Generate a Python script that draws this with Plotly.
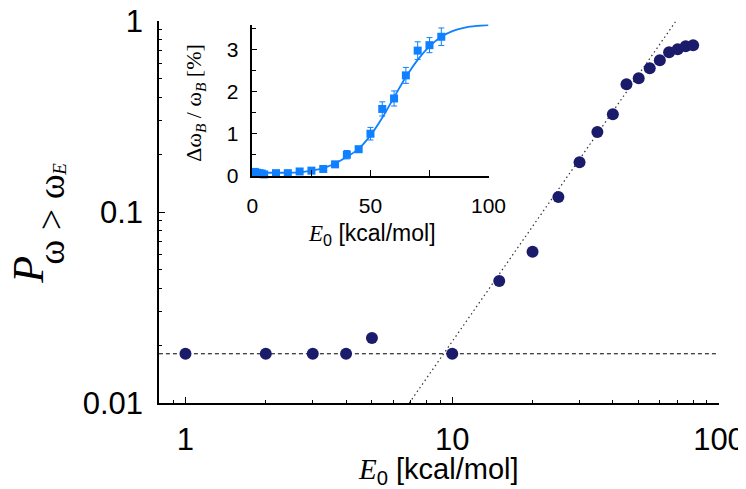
import plotly.graph_objects as go

# ---------------- data ----------------
# main panel
E_main = [1, 2, 3, 4, 5, 10, 15, 20, 25, 30, 35, 40, 45, 50, 55, 60, 65, 70, 75, 80]
P_main = [0.0181, 0.0181, 0.0181, 0.0181, 0.0219, 0.0181, 0.0435, 0.0619, 0.1197,
          0.1824, 0.262, 0.325, 0.467, 0.501, 0.566, 0.623, 0.686, 0.711, 0.737, 0.746]
baseline_level = 0.0181
baseline_x = [0.795, 100]
slope_x = [6.9, 69.0]          # dotted power-law guide (slope 2 in log-log)
slope_y = [0.01, 1.0]

# inset
E_in = [1, 2, 3, 4, 5, 10, 15, 20, 25, 30, 35, 40, 45, 50, 55, 60, 65, 70, 75, 80]
dW_in = [0.09, 0.07, 0.06, 0.05, 0.03, 0.06, 0.06, 0.10, 0.12, 0.16, 0.27, 0.50,
         0.63, 1.00, 1.59, 1.84, 2.39, 2.98, 3.11, 3.31]
dW_err = [0.03, 0.03, 0.03, 0.03, 0.03, 0.03, 0.03, 0.03, 0.03, 0.04, 0.05, 0.10,
          0.07, 0.15, 0.17, 0.18, 0.19, 0.21, 0.18, 0.21]
E_fit = [0, 5, 10, 15, 20, 25, 30, 35, 40, 45, 50, 55, 60, 65, 70, 75, 80, 85, 90, 95, 100]
dW_fit = [0.09, 0.075, 0.07, 0.07, 0.08, 0.12, 0.18, 0.29, 0.45, 0.64, 0.96, 1.38,
          1.87, 2.35, 2.76, 3.08, 3.31, 3.45, 3.53, 3.57, 3.59]

main_x_ticks = [1, 10, 100]
main_x_ticktext = ["1", "10", "100"]
main_y_ticks = [0.01, 0.1, 1]
main_y_ticktext = ["0.01", "0.1", "1"]
in_x_ticks = [0, 50, 100]
in_y_ticks = [0, 1, 2, 3]

# ---------------- styling ----------------
W, H = 746, 489
OFF = 8                      # page body margin offset of the figure in the window
L, R, T, B = 150.5, 35, 12.7, 94
PW, PH = W - L - R, H - T - B
NAVY = "#1b1b6b"
BLUE = "#0f80ff"
SANS = "Liberation Sans"
SERIF = "Liberation Serif"


def px(xw):
    # window pixel -> paper fraction
    return (xw - OFF - L) / PW


def py(yw):
    return (H - B - (yw - OFF)) / PH


fig = go.Figure()

# main panel
fig.add_trace(go.Scatter(x=baseline_x, y=[baseline_level, baseline_level], mode="lines",
                         line=dict(color="black", width=1, dash="4px,3px"),
                         hoverinfo="skip", showlegend=False))
fig.add_trace(go.Scatter(x=slope_x, y=slope_y, mode="lines",
                         line=dict(color="#333333", width=1.2, dash="1.5px,3px"),
                         hoverinfo="skip", showlegend=False))
fig.add_trace(go.Scatter(x=E_main, y=P_main, mode="markers",
                         marker=dict(color=NAVY, size=12, line=dict(width=0)),
                         showlegend=False, cliponaxis=False))

# inset
fig.add_trace(go.Scatter(x=E_fit, y=dW_fit, mode="lines", xaxis="x2", yaxis="y2",
                         line=dict(color=BLUE, width=1.8, shape="spline", smoothing=0.8),
                         showlegend=False))
fig.add_trace(go.Scatter(x=E_in, y=dW_in, mode="markers", xaxis="x2", yaxis="y2",
                         marker=dict(color=BLUE, size=8, symbol="square", line=dict(width=0)),
                         error_y=dict(type="data", array=dW_err, color=BLUE, thickness=1, width=3),
                         showlegend=False, cliponaxis=False))

axis_common = dict(showline=True, linecolor="black", linewidth=1.5, mirror=False,
                   showgrid=False, zeroline=False, ticks="inside", tickcolor="black",
                   automargin=False, ticklabeloverflow="allow")

fig.update_layout(
    width=W, height=H,
    margin=dict(l=L, r=R, t=T, b=B, autoexpand=False),
    paper_bgcolor="white", plot_bgcolor="rgba(0,0,0,0)",
    font=dict(family=SANS, color="black"),
    xaxis=dict(type="log", range=[-0.0993, 2], domain=[0, 1],
               tickvals=main_x_ticks, ticktext=main_x_ticktext, ticklen=6, tickwidth=1,
               tickfont=dict(size=31, family=SANS), ticklabelstandoff=8,
               minor=dict(ticks="inside", ticklen=3, tickcolor="black", dtick="D1"),
               **axis_common),
    yaxis=dict(type="log", range=[-2, 0], domain=[0, 1],
               tickvals=main_y_ticks, ticktext=main_y_ticktext, ticklen=6, tickwidth=1,
               tickfont=dict(size=31, family=SANS), ticklabelstandoff=8,
               minor=dict(ticks="inside", ticklen=3, tickcolor="black", dtick="D1"),
               **axis_common),
    xaxis2=dict(range=[0, 100], domain=[px(252), px(488.3)], anchor="y2",
                tickvals=in_x_ticks, ticklen=6, tickwidth=1,
                tickfont=dict(size=21, family=SANS), ticklabelstandoff=10,
                minor=dict(ticks="inside", ticklen=6, tickcolor="black", dtick=25),
                **axis_common),
    yaxis2=dict(range=[0, 3.6], domain=[py(175.5), py(24.3)], anchor="x2",
                tickvals=in_y_ticks, ticklen=5, tickwidth=1,
                tickfont=dict(size=21, family=SANS), ticklabelstandoff=8,
                minor=dict(ticks="inside", ticklen=4, tickcolor="black", dtick=0.5),
                **axis_common),
)

ann = []
# main x title
ann.append(dict(x=px(438), y=py(471), xref="paper", yref="paper", showarrow=False,
                text=f"<span style='font-family:{SERIF}'><i>E</i></span><sub>0</sub> [kcal/mol]",
                font=dict(size=29, family=SANS), xanchor="center", yanchor="middle"))
# main y title
ann.append(dict(x=px(27), y=py(270), xref="paper", yref="paper", showarrow=False,
                text="<i>P</i>", textangle=-90,
                font=dict(size=44, family=SERIF), xanchor="center", yanchor="middle"))
ann.append(dict(x=px(51), y=py(220), xref="paper", yref="paper", showarrow=False,
                text="ω > ω", textangle=-90,
                font=dict(size=38, family=SERIF), xanchor="center", yanchor="middle"))
ann.append(dict(x=px(59), y=py(169), xref="paper", yref="paper", showarrow=False,
                text="<i>E</i>", textangle=-90,
                font=dict(size=19, family=SERIF), xanchor="center", yanchor="middle"))
# inset x title
ann.append(dict(x=px(372), y=py(234), xref="paper", yref="paper", showarrow=False,
                text=f"<span style='font-family:{SERIF}'><i>E</i></span><sub>0</sub> [kcal/mol]",
                font=dict(size=23, family=SANS), xanchor="center", yanchor="middle"))
# inset y title
ann.append(dict(x=px(195), y=py(102), xref="paper", yref="paper", showarrow=False,
                text="Δω<sub><i>B</i></sub> / ω<sub><i>B</i></sub> [%]", textangle=-90,
                font=dict(size=22, family=SERIF), xanchor="center", yanchor="middle"))
fig.update_layout(annotations=ann)

fig.write_html("out.html")
